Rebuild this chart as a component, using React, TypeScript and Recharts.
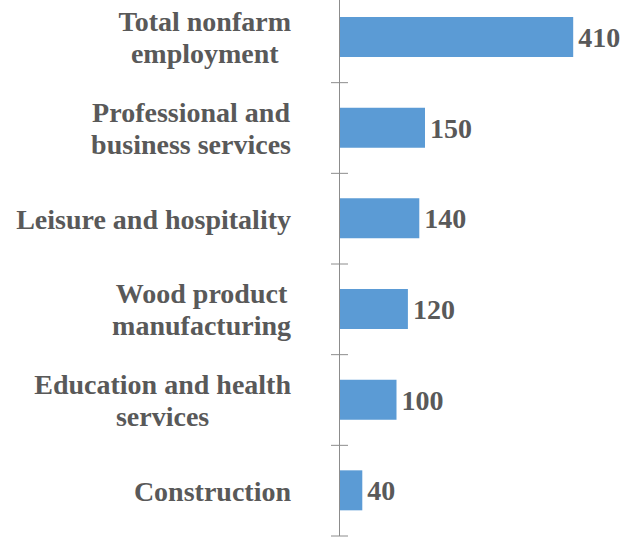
import { Bar, BarChart, LabelList, XAxis, YAxis } from "recharts";

const categories = [
  "Total nonfarm\nemployment",
  "Professional and\nbusiness services",
  "Leisure and hospitality",
  "Wood product\nmanufacturing",
  "Education and health\nservices",
  "Construction"
];
const jobs = [410, 150, 140, 120, 100, 40];

const data = categories.map((name, i) => ({ name, jobs: jobs[i] }));

const FONT = '"Liberation Serif", "Times New Roman", serif';
const TEXT = "#595959";
const AXIS = "#8c8c8c";
const SIZE = 28;

let ctx: CanvasRenderingContext2D | null = null;
function measure(text: string): number {
  if (!ctx) ctx = document.createElement("canvas").getContext("2d");
  if (!ctx) return text.length * 14;
  ctx.font = `bold ${SIZE}px ${FONT}`;
  return ctx.measureText(text).width;
}

function CategoryTick(props: any) {
  const { x, y, payload, index } = props;
  const lines: string[] = String(payload.value).split("\n");
  const half = payload.offset ?? 45.3;
  const right = x - 48.5;
  const widest = Math.max(...lines.map(measure));
  const center = right - widest / 2;
  const lineHeight = 32;
  const startY = y - ((lines.length - 1) * lineHeight) / 2;
  return (
    <g>
      {index > 0 && (
        <line x1={x - 8.5} x2={x + 8.5} y1={y - half} y2={y - half} stroke={AXIS} />
      )}
      {index === categories.length - 1 && (
        <line x1={x - 8.5} x2={x + 8.5} y1={y + half} y2={y + half} stroke={AXIS} />
      )}
      <text
        style={{ fontFamily: FONT, fontWeight: "bold", fontSize: SIZE, fill: TEXT }}
        textAnchor="middle"
        dominantBaseline="central"
      >
        {lines.map((line, i) => (
          <tspan key={i} x={center} y={startY + i * lineHeight}>
            {line}
          </tspan>
        ))}
      </text>
    </g>
  );
}

export default function App() {
  return (
    <div style={{ position: "absolute", top: -8, left: 0 }}>
      <BarChart
        width={637}
        height={552}
        data={data}
        layout="vertical"
        margin={{ top: 0, right: 12.5, bottom: 8, left: 0 }}
      >
        <XAxis type="number" domain={[0, 500]} hide />
        <YAxis
          type="category"
          dataKey="name"
          width={339.5}
          axisLine={{ stroke: AXIS }}
          tickLine={false}
          tickSize={0}
          tickMargin={0}
          interval={0}
          tick={<CategoryTick />}
        />
        <Bar dataKey="jobs" fill="#5B9BD5" barSize={40} isAnimationActive={false}>
          <LabelList
            dataKey="jobs"
            position="right"
            offset={5}
            style={{ fontFamily: FONT, fontWeight: "bold", fontSize: SIZE, fill: TEXT }}
          />
        </Bar>
      </BarChart>
    </div>
  );
}
